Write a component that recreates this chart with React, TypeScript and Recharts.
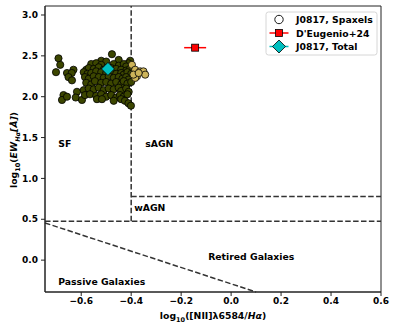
import {
  ScatterChart, Scatter, XAxis, YAxis, ReferenceLine, ReferenceArea, ReferenceDot, ErrorBar,
} from 'recharts'

const FONT = '"DejaVu Sans", sans-serif'

const X_TICKS = [-0.6, -0.4, -0.2, 0, 0.2, 0.4, 0.6]
const Y_TICKS = [0, 0.5, 1, 1.5, 2, 2.5, 3]
const X_DOMAIN: [number, number] = [-0.745, 0.6]
const Y_DOMAIN: [number, number] = [-0.39, 3.11]

// ─── spaxels ───────────────────────────────────────────────────────────────
// left of the SF / sAGN divide (dark olive)
const spaxelsSF: [number, number][] = [
  [-0.691, 2.47], [-0.684, 2.39], [-0.701, 2.3], [-0.657, 2.29], [-0.631, 2.33],
  [-0.638, 2.29], [-0.651, 2.24], [-0.637, 2.2], [-0.671, 2.02], [-0.677, 1.96],
  [-0.657, 2.0], [-0.617, 2.06], [-0.622, 1.99], [-0.597, 1.96],
  [-0.477, 2.52], [-0.45, 2.45], [-0.52, 2.44], [-0.5, 2.43], [-0.404, 2.44], [-0.411, 2.41],
  [-0.56, 2.4], [-0.54, 2.41], [-0.52, 2.39], [-0.47, 2.4], [-0.45, 2.38], [-0.43, 2.4], [-0.42, 2.37],
  [-0.58, 2.33], [-0.57, 2.35], [-0.55, 2.34], [-0.53, 2.36], [-0.51, 2.33], [-0.48, 2.35],
  [-0.46, 2.34], [-0.44, 2.33], [-0.42, 2.32], [-0.405, 2.34],
  [-0.59, 2.3], [-0.575, 2.28], [-0.56, 2.29], [-0.54, 2.31], [-0.52, 2.3], [-0.5, 2.29],
  [-0.48, 2.3], [-0.46, 2.28], [-0.44, 2.29], [-0.43, 2.27], [-0.415, 2.3], [-0.4, 2.28],
  [-0.585, 2.24], [-0.57, 2.22], [-0.55, 2.25], [-0.53, 2.24], [-0.51, 2.23], [-0.49, 2.25],
  [-0.47, 2.23], [-0.45, 2.24], [-0.435, 2.22], [-0.42, 2.24], [-0.41, 2.21],
  [-0.58, 2.17], [-0.56, 2.15], [-0.545, 2.19], [-0.52, 2.17], [-0.5, 2.18], [-0.48, 2.16],
  [-0.46, 2.18], [-0.44, 2.15], [-0.43, 2.19], [-0.415, 2.16], [-0.4, 2.18],
  [-0.59, 2.08], [-0.57, 2.1], [-0.55, 2.09], [-0.53, 2.11], [-0.51, 2.08], [-0.49, 2.1],
  [-0.47, 2.09], [-0.45, 2.11], [-0.44, 2.07], [-0.42, 2.1], [-0.41, 2.06],
  [-0.585, 2.02], [-0.565, 2.03], [-0.54, 2.01], [-0.52, 2.03], [-0.5, 2.0], [-0.48, 2.02],
  [-0.46, 1.99], [-0.445, 2.02], [-0.43, 2.0], [-0.415, 2.03],
  [-0.537, 1.97], [-0.517, 1.97], [-0.47, 1.95], [-0.44, 1.97], [-0.425, 1.95],
  [-0.411, 1.92], [-0.401, 1.89],
]

// right of the divide (tan)
const spaxelsAGN: [number, number][] = [
  [-0.397, 2.39], [-0.384, 2.33], [-0.377, 2.25], [-0.364, 2.31], [-0.351, 2.31],
  [-0.344, 2.27], [-0.384, 2.23], [-0.391, 2.27], [-0.37, 2.29],
]

const deugenio = [{ x: -0.144, y: 2.6, xerr: 0.044 }]
const total = [{ x: -0.493, y: 2.34, xerr: 0.05 }]

// WHAN-style boundaries
const NII_CUT = -0.4
const EW_WEAK = 0.477 // log10(3)
const EW_STRONG = 0.778 // log10(6)
const PASSIVE_LINE = [{ x: -0.745, y: 0.455 }, { x: 0.1, y: -0.39 }]

const regionLabels = [
  { text: 'SF', x: -0.692, y: 1.43 },
  { text: 'sAGN', x: -0.344, y: 1.43 },
  { text: 'wAGN', x: -0.388, y: 0.64 },
  { text: 'Retired Galaxies', x: -0.092, y: 0.04 },
  { text: 'Passive Galaxies', x: -0.692, y: -0.26 },
]

const DASH = { stroke: '#333', strokeWidth: 1.5, strokeDasharray: '5.5 2.4' }

function fmt(v: number) {
  return v.toFixed(1).replace('-', '\u2212')
}

function Dot(color: string) {
  return (p: any) => <circle cx={p.cx} cy={p.cy} r={3.6} fill={color} stroke="#000" strokeWidth={0.8} />
}

function Square(p: any) {
  return <rect x={p.cx - 3.5} y={p.cy - 3.5} width={7} height={7} fill="#ff0000" stroke="#000" strokeWidth={0.8} />
}

function Diamond(p: any) {
  const r = 6.5
  return (
    <polygon
      points={`${p.cx},${p.cy - r} ${p.cx + r},${p.cy} ${p.cx},${p.cy + r} ${p.cx - r},${p.cy}`}
      fill="#00bfbf" stroke="#000" strokeWidth={0.8}
    />
  )
}

const tickStyle = { fontSize: 9, fontWeight: 'bold', fill: '#000', fontFamily: FONT }

export default function App() {
  const sf = spaxelsSF.map(([x, y]) => ({ x, y }))
  const agn = spaxelsAGN.map(([x, y]) => ({ x, y }))
  return (
    <div style={{ position: 'fixed', left: 0, top: 0, width: 397, height: 329, background: '#fff', fontFamily: FONT }}>
      <ScatterChart width={397} height={329} margin={{ top: 6, right: 16, bottom: 0, left: 0 }}>
        <XAxis
          type="number" dataKey="x" domain={X_DOMAIN} ticks={X_TICKS} allowDataOverflow
          tickFormatter={fmt} tick={tickStyle} tickSize={4} tickMargin={2} height={37}
          axisLine={{ stroke: '#222' }} tickLine={{ stroke: '#222' }}
        />
        <YAxis
          type="number" dataKey="y" domain={Y_DOMAIN} ticks={Y_TICKS} allowDataOverflow
          tickFormatter={fmt} tick={tickStyle} tickSize={4} tickMargin={3} width={45}
          axisLine={{ stroke: '#222' }} tickLine={{ stroke: '#222' }}
        />
        <ReferenceArea x1={X_DOMAIN[0]} x2={X_DOMAIN[1]} y1={Y_DOMAIN[0]} y2={Y_DOMAIN[1]}
          fill="none" stroke="#222" strokeWidth={1} ifOverflow="visible" />

        <ReferenceLine segment={[{ x: NII_CUT, y: EW_WEAK }, { x: NII_CUT, y: Y_DOMAIN[1] }]} {...DASH} ifOverflow="visible" />
        <ReferenceLine segment={[{ x: X_DOMAIN[0], y: EW_WEAK }, { x: X_DOMAIN[1], y: EW_WEAK }]} {...DASH} ifOverflow="visible" />
        <ReferenceLine segment={[{ x: NII_CUT, y: EW_STRONG }, { x: X_DOMAIN[1], y: EW_STRONG }]} {...DASH} ifOverflow="visible" />
        <ReferenceLine segment={PASSIVE_LINE} {...DASH} ifOverflow="visible" />

        {regionLabels.map((l) => (
          <ReferenceDot
            key={l.text} x={l.x} y={l.y} r={0} ifOverflow="visible"
            shape={(p: any) => (
              <text x={p.cx} y={p.cy} dominantBaseline="central" fontSize={9.3} fontWeight="bold" fill="#000" fontFamily={FONT}>
                {l.text}
              </text>
            )}
          />
        ))}

        <Scatter data={sf} shape={Dot('#3c4600')} isAnimationActive={false} />
        <Scatter data={agn} shape={Dot('#cdb45a')} isAnimationActive={false} />
        <Scatter data={deugenio} shape={Square} isAnimationActive={false}>
          <ErrorBar dataKey="xerr" direction="x" width={0} stroke="#ff0000" strokeWidth={1.5} />
        </Scatter>
        <Scatter data={total} shape={Diamond} isAnimationActive={false}>
          <ErrorBar dataKey="xerr" direction="x" width={0} stroke="#00bfbf" strokeWidth={1.5} />
        </Scatter>
      </ScatterChart>

      <svg width={397} height={329} style={{ position: 'absolute', left: 0, top: 0, pointerEvents: 'none' }}>
        <g fontFamily={FONT} fontWeight="bold" fontSize={9.3} fill="#000">
          <text x={213} y={319} textAnchor="middle">
            <tspan>log</tspan>
            <tspan dy={2.5} fontSize={6.5}>10</tspan>
            <tspan dy={-2.5}>([NII]λ6584/</tspan>
            <tspan fontStyle="italic">Hα</tspan>
            <tspan>)</tspan>
          </text>
          <text transform="translate(17,150) rotate(-90)" textAnchor="middle">
            <tspan>log</tspan>
            <tspan dy={2.5} fontSize={6.5}>10</tspan>
            <tspan dy={-2.5}>(</tspan>
            <tspan fontStyle="italic">EW</tspan>
            <tspan dy={2.5} fontSize={6.5} fontStyle="italic">Hα</tspan>
            <tspan dy={-2.5} fontStyle="italic">[Å]</tspan>
            <tspan>)</tspan>
          </text>
        </g>

        {/* legend */}
        <rect x={266} y={12} width={111} height={43} rx={2.5} fill="#fff" fillOpacity={0.8} stroke="#ccc" strokeWidth={0.8} />
        <g fontFamily={FONT} fontWeight="bold" fontSize={9.3} fill="#000">
          <circle cx={279} cy={19.5} r={4.2} fill="#fff" stroke="#000" strokeWidth={0.9} />
          <text x={296} y={19.5} dominantBaseline="central">J0817, Spaxels</text>

          <line x1={269.5} x2={288.5} y1={33} y2={33} stroke="#ff0000" strokeWidth={1.5} />
          <rect x={275.5} y={29.5} width={7} height={7} fill="#ff0000" stroke="#000" strokeWidth={0.8} />
          <text x={296} y={33} dominantBaseline="central">D'Eugenio+24</text>

          <line x1={269.5} x2={288.5} y1={46.5} y2={46.5} stroke="#00bfbf" strokeWidth={1.5} />
          <polygon points="279,40 285.5,46.5 279,53 272.5,46.5" fill="#00bfbf" stroke="#000" strokeWidth={0.8} />
          <text x={296} y={46.5} dominantBaseline="central">J0817, Total</text>
        </g>
      </svg>
    </div>
  )
}
